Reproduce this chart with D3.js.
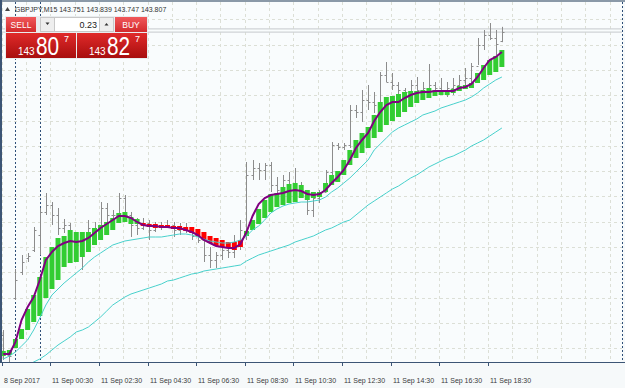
<!DOCTYPE html>
<html>
<head>
<meta charset="utf-8">
<script src="https://cdn.jsdelivr.net/npm/d3@7"></script>
<style>
  body { margin: 0; background: #ffffff; }
  svg { display: block; }
</style>
</head>
<body>
<div id="chart"></div>
<script>
// ---- data (GBPJPY M15) ----
const symbol = 'GBPJPY,M15';
const headerOHLC = ['143.751', '143.839', '143.747', '143.807'];
const bidPrice = 143.807;
const askPrice = 143.827;
const lotSize = '0.23';
const sellQuote = ['143', '80', '7'];
const buyQuote = ['143', '82', '7'];

const tickIndex = [0, 8, 16, 24, 32, 40, 48, 56, 64, 72, 80];
const tickLabels = ['8 Sep 2017', '11 Sep 00:30', '11 Sep 02:30', '11 Sep 04:30', '11 Sep 06:30',
  '11 Sep 08:30', '11 Sep 10:30', '11 Sep 12:30', '11 Sep 14:30', '11 Sep 16:30', '11 Sep 18:30'];
const separatorIndex = [2, 6];
const gridPrices = [143.884, 143.732, 143.581, 143.429, 143.277, 143.125, 142.973,
  142.822, 142.670, 142.518, 142.366, 142.214, 142.063, 141.911];

const open = [141.990, 141.870, 142.212, 142.368, 142.452, 142.500, 142.590, 142.728, 142.770, 142.710,
  142.632, 142.650, 142.560, 142.530, 142.560, 142.632, 142.650, 142.752, 142.710, 142.710,
  142.812, 142.710, 142.650, 142.632, 142.662, 142.620, 142.650, 142.644, 142.650, 142.620,
  142.632, 142.620, 142.584, 142.560, 142.470, 142.440, 142.470, 142.500, 142.488, 142.530,
  142.608, 142.950, 142.992, 142.980, 143.010, 142.890, 142.860, 142.920, 142.860, 142.860,
  142.830, 142.740, 142.812, 142.848, 142.968, 143.130, 143.118, 143.130, 143.340, 143.328,
  143.400, 143.388, 143.370, 143.550, 143.508, 143.490, 143.460, 143.448, 143.490, 143.460,
  143.472, 143.490, 143.472, 143.460, 143.472, 143.490, 143.520, 143.532, 143.604, 143.730,
  143.790, 143.772, 143.751];
const high = [142.020, 141.882, 142.386, 142.470, 142.482, 142.638, 142.752, 142.842, 142.788, 142.752,
  142.686, 142.662, 142.590, 142.572, 142.680, 142.668, 142.788, 142.782, 142.740, 142.842,
  142.830, 142.728, 142.692, 142.692, 142.680, 142.668, 142.668, 142.680, 142.668, 142.662,
  142.662, 142.638, 142.620, 142.572, 142.518, 142.488, 142.542, 142.548, 142.590, 142.680,
  143.028, 143.040, 143.022, 143.022, 143.028, 142.938, 142.950, 142.968, 142.992, 142.908,
  142.848, 142.842, 142.860, 142.980, 143.148, 143.142, 143.142, 143.370, 143.370, 143.460,
  143.490, 143.448, 143.568, 143.628, 143.562, 143.508, 143.472, 143.520, 143.538, 143.508,
  143.616, 143.508, 143.532, 143.508, 143.532, 143.550, 143.592, 143.622, 143.772, 143.820,
  143.862, 143.820, 143.839];
const low = [141.840, 141.822, 142.200, 142.350, 142.428, 142.488, 142.470, 142.710, 142.650, 142.590,
  142.602, 142.518, 142.470, 142.380, 142.542, 142.590, 142.638, 142.650, 142.650, 142.698,
  142.668, 142.578, 142.590, 142.620, 142.560, 142.608, 142.620, 142.632, 142.578, 142.590,
  142.602, 142.560, 142.542, 142.428, 142.392, 142.392, 142.440, 142.452, 142.452, 142.500,
  142.560, 142.920, 142.920, 142.920, 142.848, 142.818, 142.842, 142.818, 142.818, 142.812,
  142.710, 142.698, 142.782, 142.860, 142.920, 143.100, 143.100, 143.112, 143.292, 143.268,
  143.340, 143.322, 143.328, 143.508, 143.460, 143.412, 143.370, 143.412, 143.430, 143.418,
  143.448, 143.448, 143.430, 143.418, 143.430, 143.460, 143.478, 143.490, 143.610, 143.700,
  143.760, 143.670, 143.747];
const close = [141.876, 141.864, 142.320, 142.428, 142.464, 142.620, 142.728, 142.770, 142.710, 142.632,
  142.650, 142.560, 142.530, 142.560, 142.632, 142.620, 142.752, 142.710, 142.710, 142.812,
  142.710, 142.650, 142.632, 142.662, 142.620, 142.650, 142.644, 142.650, 142.620, 142.632,
  142.620, 142.584, 142.560, 142.470, 142.440, 142.470, 142.500, 142.488, 142.530, 142.620,
  142.950, 142.992, 142.980, 143.010, 142.890, 142.860, 142.920, 142.860, 142.860, 142.830,
  142.740, 142.812, 142.848, 142.968, 143.130, 143.118, 143.130, 143.340, 143.328, 143.400,
  143.388, 143.370, 143.550, 143.508, 143.490, 143.460, 143.448, 143.490, 143.460, 143.472,
  143.490, 143.472, 143.460, 143.472, 143.490, 143.520, 143.532, 143.604, 143.730, 143.790,
  143.772, 143.736, 143.807];

// smoothed Heiken Ashi bodies
const haOpen = [141.864, 141.870, 141.912, 141.966, 142.020, 142.068, 142.104, 142.212, 142.266, 142.320,
  142.398, 142.422, 142.428, 142.458, 142.488, 142.530, 142.560, 142.590, 142.620, 142.662,
  142.668, 142.656, 142.656, 142.662, 142.656, 142.656, 142.650, 142.650, 142.644, 142.644,
  142.638, 142.638, 142.626, 142.608, 142.584, 142.572, 142.560, 142.548, 142.548, 142.560,
  142.584, 142.620, 142.656, 142.692, 142.728, 142.758, 142.770, 142.782, 142.788, 142.812,
  142.800, 142.812, 142.818, 142.848, 142.890, 142.908, 142.950, 143.010, 143.052, 143.082,
  143.112, 143.172, 143.208, 143.250, 143.274, 143.298, 143.328, 143.358, 143.382, 143.400,
  143.412, 143.424, 143.430, 143.430, 143.442, 143.454, 143.466, 143.472, 143.502, 143.520,
  143.550, 143.568, 143.598];
const haClose = [141.894, 141.900, 141.966, 142.026, 142.146, 142.230, 142.338, 142.458, 142.518, 142.572,
  142.584, 142.620, 142.608, 142.608, 142.608, 142.632, 142.650, 142.668, 142.692, 142.722,
  142.728, 142.698, 142.686, 142.644, 142.638, 142.632, 142.632, 142.632, 142.626, 142.620,
  142.614, 142.602, 142.584, 142.560, 142.542, 142.524, 142.518, 142.512, 142.500, 142.518,
  142.614, 142.680, 142.746, 142.800, 142.836, 142.842, 142.878, 142.896, 142.902, 142.890,
  142.860, 142.848, 142.848, 142.902, 142.950, 142.974, 143.040, 143.100, 143.160, 143.202,
  143.238, 143.310, 143.388, 143.418, 143.424, 143.436, 143.448, 143.454, 143.454, 143.460,
  143.472, 143.460, 143.460, 143.460, 143.466, 143.484, 143.490, 143.502, 143.562, 143.610,
  143.640, 143.664, 143.700];

const maPurple = [141.876, 141.876, 141.948, 142.080, 142.158, 142.218, 142.320, 142.440, 142.488, 142.524,
  142.542, 142.554, 142.548, 142.554, 142.572, 142.602, 142.632, 142.656, 142.680, 142.704,
  142.704, 142.692, 142.668, 142.650, 142.644, 142.644, 142.638, 142.638, 142.632, 142.632,
  142.620, 142.608, 142.590, 142.560, 142.542, 142.524, 142.518, 142.512, 142.512, 142.536,
  142.608, 142.704, 142.776, 142.812, 142.830, 142.836, 142.842, 142.854, 142.860, 142.854,
  142.836, 142.830, 142.836, 142.860, 142.902, 142.938, 142.980, 143.040, 143.112, 143.160,
  143.202, 143.274, 143.328, 143.370, 143.388, 143.388, 143.412, 143.430, 143.442, 143.448,
  143.448, 143.454, 143.454, 143.454, 143.454, 143.472, 143.478, 143.496, 143.538, 143.592,
  143.640, 143.658, 143.688];
const maFast = [141.846, 141.864, 141.888, 141.924, 141.960, 142.020, 142.092, 142.170, 142.230, 142.266,
  142.302, 142.332, 142.362, 142.392, 142.428, 142.458, 142.482, 142.506, 142.530, 142.542,
  142.554, 142.560, 142.566, 142.572, 142.578, 142.578, 142.578, 142.584, 142.590, 142.596,
  142.596, 142.590, 142.578, 142.566, 142.554, 142.548, 142.542, 142.542, 142.548, 142.560,
  142.584, 142.620, 142.644, 142.680, 142.722, 142.746, 142.764, 142.776, 142.782, 142.788,
  142.788, 142.794, 142.800, 142.818, 142.848, 142.872, 142.902, 142.932, 142.968, 143.004,
  143.040, 143.100, 143.136, 143.172, 143.208, 143.232, 143.250, 143.268, 143.286, 143.310,
  143.322, 143.334, 143.352, 143.364, 143.376, 143.388, 143.400, 143.418, 143.442, 143.472,
  143.496, 143.520, 143.538];
const maSlow = [null, null, null, null, 141.804, 141.828, 141.846, 141.870, 141.900, 141.930,
  141.954, 141.978, 142.008, 142.020, 142.038, 142.068, 142.098, 142.134, 142.170, 142.194,
  142.218, 142.236, 142.248, 142.260, 142.272, 142.284, 142.296, 142.314, 142.320, 142.332,
  142.344, 142.356, 142.362, 142.374, 142.380, 142.386, 142.392, 142.398, 142.404, 142.410,
  142.434, 142.452, 142.470, 142.482, 142.494, 142.506, 142.518, 142.530, 142.548, 142.560,
  142.572, 142.584, 142.602, 142.620, 142.632, 142.650, 142.668, 142.680, 142.710, 142.740,
  142.770, 142.794, 142.818, 142.842, 142.866, 142.884, 142.908, 142.932, 142.950, 142.974,
  142.998, 143.016, 143.034, 143.052, 143.064, 143.082, 143.100, 143.124, 143.142, 143.160,
  143.184, 143.208, 143.232];

// ---- layout ----
const width = 625, height = 388;
const plot = { left: 2, right: 622, top: 2, bottom: 362 };

const svg = d3.select('#chart').append('svg')
  .attr('width', width)
  .attr('height', height)
  .style('font-family', "'Liberation Sans', Arial, sans-serif");

// bar index -> x, price -> y
const x = d3.scaleLinear().domain([0, 100]).range([3.3, 3.3 + 608]);
const y = d3.scaleLinear().domain([144, 141.672]).range([0, 388]);

svg.append('rect')
  .attr('width', width).attr('height', height)
  .attr('fill', '#f6f9fa');
svg.append('rect')
  .attr('x', plot.left).attr('y', plot.top)
  .attr('width', plot.right - plot.left).attr('height', plot.bottom - plot.top)
  .attr('fill', '#f9fcfd');

svg.append('clipPath').attr('id', 'plot-clip')
  .append('rect')
  .attr('x', plot.left).attr('y', plot.top)
  .attr('width', plot.right - plot.left).attr('height', plot.bottom - plot.top);

// grid
const gridX = d3.range(0, 101, 4);
svg.append('g').selectAll('line').data(gridX).join('line')
  .attr('x1', d => Math.round(x(d) - 1.7) + 0.5).attr('x2', d => Math.round(x(d) - 1.7) + 0.5)
  .attr('y1', plot.top).attr('y2', plot.bottom)
  .attr('stroke', '#dcdfd6').attr('stroke-dasharray', '3,3');
svg.append('g').selectAll('line').data(gridPrices).join('line')
  .attr('x1', plot.left).attr('x2', plot.right)
  .attr('y1', d => Math.round(y(d)) + 0.5).attr('y2', d => Math.round(y(d)) + 0.5)
  .attr('stroke', '#dcdfd6').attr('stroke-dasharray', '3,3');

// period separators
svg.append('g').selectAll('line').data(separatorIndex).join('line')
  .attr('x1', d => Math.round(x(d)) + 0.5).attr('x2', d => Math.round(x(d)) + 0.5)
  .attr('y1', plot.top).attr('y2', plot.bottom)
  .attr('stroke', '#2f4f78').attr('stroke-dasharray', '2,2');

// bid / ask lines
svg.append('g').selectAll('line').data([askPrice, bidPrice]).join('line')
  .attr('x1', plot.left).attr('x2', plot.right)
  .attr('y1', d => y(d)).attr('y2', d => y(d))
  .attr('stroke', '#cfd3d6').attr('stroke-width', 1.3);

const g = svg.append('g').attr('clip-path', 'url(#plot-clip)');
const idx = d3.range(open.length);

// OHLC bars (grey)
const bars = g.append('g').attr('stroke', '#8c8c8c').attr('stroke-width', 1);
bars.selectAll('.hl').data(idx).join('line')
  .attr('x1', i => Math.round(x(i)) + 0.5).attr('x2', i => Math.round(x(i)) + 0.5)
  .attr('y1', i => y(high[i])).attr('y2', i => y(low[i]));
bars.selectAll('.op').data(idx).join('line')
  .attr('x1', i => Math.round(x(i)) - 1.5).attr('x2', i => Math.round(x(i)) + 0.5)
  .attr('y1', i => Math.round(y(open[i])) + 0.5).attr('y2', i => Math.round(y(open[i])) + 0.5);
bars.selectAll('.cl').data(idx).join('line')
  .attr('x1', i => Math.round(x(i)) + 0.5).attr('x2', i => Math.round(x(i)) + 2.5)
  .attr('y1', i => Math.round(y(close[i])) + 0.5).attr('y2', i => Math.round(y(close[i])) + 0.5);

// Heiken Ashi bodies
g.append('g').selectAll('rect').data(idx).join('rect')
  .attr('x', i => x(i) - 2.5)
  .attr('width', 5)
  .attr('y', i => y(Math.max(haOpen[i], haClose[i])))
  .attr('height', i => Math.max(1, Math.abs(y(haOpen[i]) - y(haClose[i]))))
  .attr('fill', i => haClose[i] >= haOpen[i] ? '#32cd32' : '#ff0000');

// moving averages
const lineGen = arr => d3.line()
  .defined(i => arr[i] != null)
  .x(i => x(i))
  .y(i => y(arr[i]));

g.append('path').datum(idx)
  .attr('d', lineGen(maSlow))
  .attr('fill', 'none').attr('stroke', '#48d1cc').attr('stroke-width', 1);
g.append('path').datum(idx)
  .attr('d', lineGen(maFast))
  .attr('fill', 'none').attr('stroke', '#48d1cc').attr('stroke-width', 1);
g.append('path').datum(idx)
  .attr('d', lineGen(maPurple))
  .attr('fill', 'none').attr('stroke', '#800080').attr('stroke-width', 2);

// frame
svg.append('line').attr('x1', 0).attr('x2', width).attr('y1', 1).attr('y2', 1)
  .attr('stroke', '#8a99a8').attr('stroke-width', 2);
svg.append('line').attr('x1', 1).attr('x2', 1).attr('y1', 0).attr('y2', plot.bottom)
  .attr('stroke', '#3c5575').attr('stroke-width', 2);
svg.append('line').attr('x1', 0).attr('x2', width).attr('y1', plot.bottom + 0.5).attr('y2', plot.bottom + 0.5)
  .attr('stroke', '#3c5575').attr('stroke-width', 1);
svg.append('line').attr('x1', plot.right + 0.5).attr('x2', plot.right + 0.5)
  .attr('y1', plot.top).attr('y2', plot.bottom)
  .attr('stroke', '#2f4f78').attr('stroke-dasharray', '2,2');

// time axis
const axis = svg.append('g');
axis.selectAll('line').data(tickIndex).join('line')
  .attr('x1', d => Math.round(x(d) - 1.7) + 0.5).attr('x2', d => Math.round(x(d) - 1.7) + 0.5)
  .attr('y1', plot.bottom).attr('y2', plot.bottom + 4)
  .attr('stroke', '#3c5575');
axis.selectAll('text').data(tickIndex).join('text')
  .attr('x', d => Math.round(x(d) - 1.7) + 2)
  .attr('y', 383)
  .attr('font-size', 7)
  .attr('fill', '#3a3a3a')
  .text((d, i) => tickLabels[i]);

// header
svg.append('path').attr('d', 'M5,11 L7.5,7 L10,11 Z').attr('fill', '#444');
svg.append('text').attr('x', 15).attr('y', 12)
  .attr('font-size', 7).attr('fill', '#333')
  .text(`${symbol}  ${headerOHLC.join(' ')}`);

// one-click trading panel
const panel = svg.append('g');
const defs = svg.append('defs');
const btnGrad = defs.append('linearGradient').attr('id', 'btn-grad')
  .attr('x1', 0).attr('y1', 0).attr('x2', 0).attr('y2', 1);
btnGrad.append('stop').attr('offset', 0).attr('stop-color', '#f0585a');
btnGrad.append('stop').attr('offset', 1).attr('stop-color', '#d32a2c');
const priceGrad = defs.append('linearGradient').attr('id', 'price-grad')
  .attr('x1', 0).attr('y1', 0).attr('x2', 0).attr('y2', 1);
priceGrad.append('stop').attr('offset', 0).attr('stop-color', '#e02a2a');
priceGrad.append('stop').attr('offset', 1).attr('stop-color', '#a80e0e');

panel.append('rect').attr('x', 5).attr('y', 16).attr('width', 143).attr('height', 43)
  .attr('fill', '#e9ecee');
panel.append('rect').attr('x', 6).attr('y', 17).attr('width', 30).attr('height', 15)
  .attr('fill', 'url(#btn-grad)');
panel.append('rect').attr('x', 115).attr('y', 17).attr('width', 32).attr('height', 15)
  .attr('fill', 'url(#btn-grad)');
panel.append('rect').attr('x', 40.5).attr('y', 17.5).attr('width', 73).attr('height', 14)
  .attr('fill', '#ffffff').attr('stroke', '#c8c8c8');
panel.append('rect').attr('x', 40.5).attr('y', 17.5).attr('width', 14).attr('height', 14)
  .attr('fill', '#eeeeee').attr('stroke', '#c8c8c8');
panel.append('rect').attr('x', 99.5).attr('y', 17.5).attr('width', 14).attr('height', 14)
  .attr('fill', '#eeeeee').attr('stroke', '#c8c8c8');
panel.append('path').attr('d', 'M45.5,22.5 L49.5,22.5 L47.5,25 Z').attr('fill', '#333');
panel.append('path').attr('d', 'M104.5,25.5 L108.5,25.5 L106.5,23 Z').attr('fill', '#333');
panel.append('text').attr('x', 97).attr('y', 28).attr('text-anchor', 'end')
  .attr('font-size', 9).attr('fill', '#222').text(lotSize);
panel.append('text').attr('x', 21).attr('y', 28).attr('text-anchor', 'middle')
  .attr('font-size', 8.5).attr('fill', '#fff').text('SELL');
panel.append('text').attr('x', 131).attr('y', 28).attr('text-anchor', 'middle')
  .attr('font-size', 8.5).attr('fill', '#fff').text('BUY');

[[6, sellQuote], [77, buyQuote]].forEach(([bx, q]) => {
  panel.append('rect').attr('x', bx).attr('y', 33).attr('width', 70).attr('height', 25)
    .attr('fill', 'url(#price-grad)');
  panel.append('text').attr('x', bx + 12).attr('y', 55)
    .attr('font-size', 10).attr('fill', '#fff').text(q[0]);
  // big digits are narrow in the terminal font: squeeze horizontally
  panel.append('text')
    .attr('transform', `translate(${bx + 30},54.5) scale(0.8,1)`)
    .attr('font-size', 26).attr('fill', '#fff').text(q[1]);
  panel.append('text').attr('x', bx + 58).attr('y', 42)
    .attr('font-size', 9).attr('fill', '#fff').text(q[2]);
});
</script>
</body>
</html>
